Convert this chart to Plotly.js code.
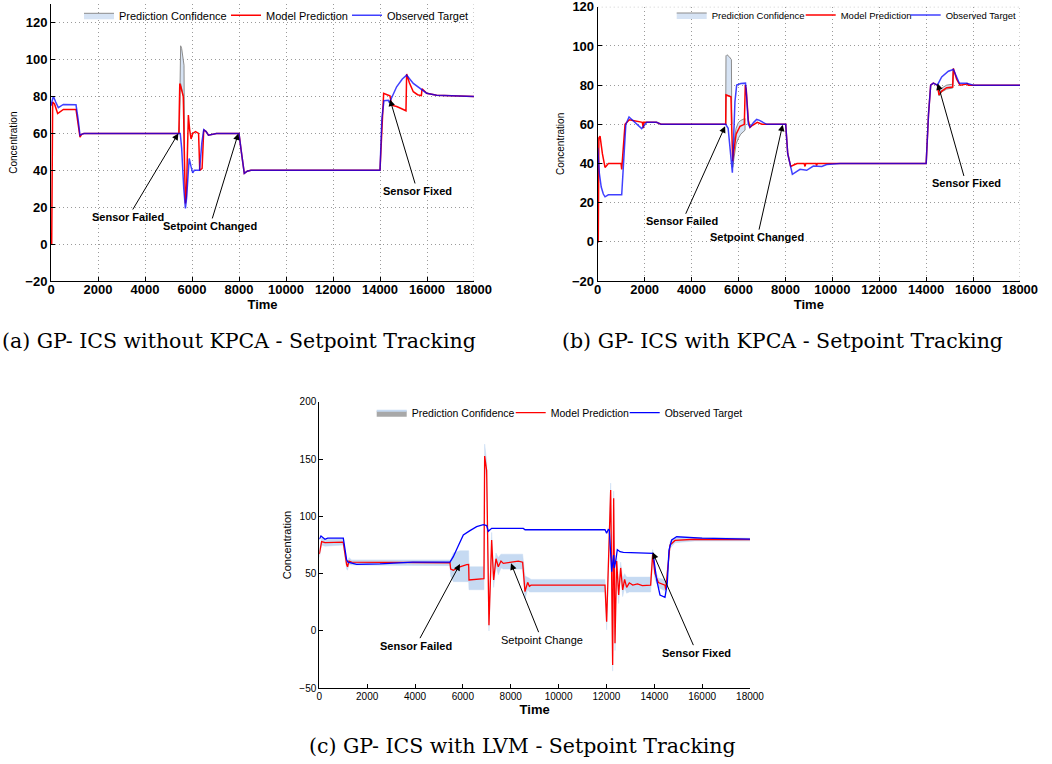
<!DOCTYPE html>
<html><head><meta charset="utf-8">
<script src="https://cdn.plot.ly/plotly-3.0.1.min.js"></script>
<style>html,body{margin:0;padding:0;background:#fff}#chart{width:1052px;height:764px}</style>
</head><body><div id="chart"></div>
<script>
// ---------- Panel (a): GP- ICS without KPCA ----------
const aTimePred = [0, 30, 70, 150, 284, 525, 1064, 1150, 1234, 1300, 1400, 5440, 5480, 5530, 5630, 5680, 5720, 5760, 5800, 5845, 5900, 5960, 6030, 6150, 6280, 6312, 6330, 6430, 6500, 6600, 6700, 7040, 8000, 8100, 8225, 8350, 8510, 14000, 14070, 14155, 14300, 14424, 14496, 14708, 14900, 15105, 15134, 15250, 15417, 15600, 15760, 15790, 15985, 16410, 18000];
const aPred = [0, 0, 77, 76, 70.8, 73, 73, 66, 58, 59.5, 60, 60, 87, 85, 80, 45, 22, 26, 45, 70, 62, 57, 60, 61, 60, 40, 40, 41, 62, 61, 59, 60, 60, 50, 38.3, 39.5, 40, 40, 62, 81.7, 81, 80.4, 75.3, 74.6, 73.5, 72.3, 92.2, 87.5, 82.6, 81, 80.5, 84.2, 81.8, 80.7, 80];
const aTimeObs = [0, 60, 100, 200, 312, 525, 1064, 1150, 1234, 1300, 1400, 5500, 5560, 5650, 5720, 5770, 5880, 5960, 6030, 6100, 6320, 6420, 6500, 6600, 6700, 7040, 8000, 8100, 8225, 8350, 8510, 14000, 14080, 14169, 14353, 14400, 14550, 14708, 14950, 15134, 15417, 15772, 15985, 16410, 18000];
const aObs = [75, 79, 80.2, 77, 74, 75.7, 75.5, 68, 59, 59.5, 60, 60, 52, 30, 19.3, 25, 46.4, 42, 38.6, 40, 40, 55, 62, 61, 59, 60, 60, 50, 38.3, 39.5, 40, 40, 68, 77.7, 78, 76.6, 80.5, 85.3, 89.5, 91.6, 87.1, 84, 81.8, 80.7, 80];
const aConfTime = [5460, 5489, 5517, 5560, 5631, 5660, 5680];
const aConfUpper = [60, 100, 107.5, 106, 100, 97, 50];
const aConfLower = [60, 82, 87, 85, 80, 62, 45];

// ---------- Panel (b): GP- ICS with KPCA ----------
const bTimePred = [0, 25, 50, 100, 200, 312, 455, 995, 1023, 1100, 1165, 1350, 1900, 1946, 1960, 2050, 2500, 2700, 5455, 5468, 5680, 5720, 5754, 5800, 5900, 6066, 6250, 6290, 6330, 6420, 6490, 6600, 6800, 7000, 8013, 8100, 8226, 8400, 8500, 8800, 8836, 8870, 9300, 9330, 9360, 14000, 14100, 14193, 14306, 14477, 14548, 14662, 14875, 15130, 15150, 15160, 15300, 15443, 15727, 15756, 15790, 18000];
const bPred = [0, 0, 53, 54, 45, 38, 40, 40, 37, 50, 60, 62.3, 61, 58, 61, 61, 61, 60, 60, 75, 74, 55, 41.2, 46, 55, 59, 60, 80, 78, 62, 58.4, 59.5, 61, 60, 60, 45, 38.5, 39.5, 40, 40, 38.5, 40, 40, 39, 40, 40, 65, 80, 81, 80, 75, 77, 78.7, 79, 83, 88.5, 83, 80, 80.5, 81, 80, 80];
const bTimeObs = [0, 70, 150, 240, 312, 455, 1023, 1100, 1200, 1335, 1500, 1700, 1875, 2090, 2515, 2700, 5455, 5560, 5680, 5740, 5800, 5850, 5924, 6100, 6300, 6330, 6420, 6490, 6650, 6776, 6900, 7200, 8013, 8100, 8297, 8450, 8624, 8908, 9192, 9550, 9760, 10330, 14000, 14100, 14193, 14306, 14477, 14662, 14946, 15160, 15300, 15415, 15727, 16010, 18000];
const bObs = [48, 35, 28, 24.4, 23, 24, 24, 40, 60, 63.7, 62, 59.5, 57.8, 61, 61, 60, 60, 58, 42, 35.3, 55, 71.6, 80, 80.8, 81, 77, 60, 58.5, 61, 62.5, 62, 60, 60, 45, 34.5, 35.5, 37, 36.5, 38.7, 38.5, 39.5, 40, 40, 65, 80, 81, 80, 84.2, 87.1, 88, 84, 81, 81, 80, 80];
const bConf1Time = [5455, 5468, 5510, 5610, 5700, 5715];
const bConf1Upper = [60, 95, 95.5, 94.5, 93, 60];
const bConf1Lower = [60, 75, 75, 74.5, 73.8, 60];
const bConf2Time = [5760, 5800, 5900, 6000, 6100, 6280];
const bConf2Upper = [44, 50, 58, 61, 62, 63];
const bConf2Lower = [38, 42, 50, 53, 55, 57];
const bConf3Time = [14490, 14548, 14662, 14875, 15130, 15160];
const bConf3Upper = [80.5, 77, 78.5, 80, 80.5, 88.5];
const bConf3Lower = [80, 74.5, 76.5, 78, 78.5, 88];

// ---------- Panel (c): GP- ICS with LVM ----------
const cTimePred = [0, 98, 240, 1000, 1142, 1180, 1240, 1350, 5461, 5490, 5600, 5879, 6158, 6242, 6256, 6882, 6910, 6994, 7091, 7203, 7286, 7384, 7481, 7593, 7690, 7969, 8317, 8498, 8596, 8708, 8780, 8850, 11940, 12009, 12177, 12260, 12302, 12358, 12427, 12511, 12595, 12678, 12760, 12845, 12956, 13100, 13300, 13500, 13848, 13932, 14029, 14169, 14448, 14476, 14546, 14657, 14865, 15700, 18000];
const cPred = [67, 78, 77, 77.5, 58, 56, 61, 60, 59.5, 54, 53, 56, 57.8, 58, 44.5, 45.6, 152.6, 140, 5, 79.4, 44.5, 63, 56, 61, 59, 60, 61, 60, 34.3, 42.4, 39, 40, 40, 8, 123, -29.7, 115.7, -10.8, 61, 31.4, 55, 35.8, 45, 38, 42, 40, 41, 39.5, 40, 67, 50, 42.2, 40, 36, 50, 75, 79, 80, 79.8];
const cConfUpper = [70, 81, 80, 80.5, 62, 60, 64, 62, 62, 62, 68, 70, 70, 70, 56, 56, 163, 148, 14, 86, 52, 68, 64, 67, 67, 67, 67, 67, 48, 47, 46, 45, 45, 16, 129, -22, 122, -3, 66, 40, 60, 46, 50, 47, 47, 47, 47, 47, 47, 71, 54, 46, 45, 41, 54, 78, 81, 81.5, 81];
const cConfLower = [64, 75, 74, 75, 54, 53, 58, 57.5, 57, 48, 43, 43, 43, 43, 36, 36, 145, 132, 0, 72, 38, 57, 49, 55, 54, 54, 54, 54, 28, 36, 34, 34, 34, 1, 116, -35, 108, -17, 55, 24, 49, 30, 38, 33, 34, 34, 34, 34, 34, 62, 45, 38, 35, 31, 46, 72, 77, 78.5, 78.5];
const cTimeObs = [0, 70, 237, 350, 1003, 1142, 1200, 1560, 2535, 3200, 3900, 5461, 5600, 5810, 6019, 6297, 6576, 6855, 6994, 7064, 7203, 8526, 8600, 11940, 12009, 12077, 12121, 12220, 12300, 12330, 12380, 12455, 12566, 12706, 13950, 14100, 14238, 14447, 14543, 14614, 14726, 14935, 15353, 16000, 18000];
const cObs = [80, 82.8, 80, 81, 81, 62, 60, 58.1, 58.5, 59.5, 60, 60, 64.8, 74.4, 83.7, 87.5, 91, 92.7, 92, 87, 89.5, 89.5, 88.3, 88.3, 85.2, 88.5, 88, 51.7, 66.3, 55, 60, 71, 69.2, 68.5, 67.7, 44.5, 31.4, 29.4, 41.6, 70.6, 79.4, 82.2, 81.5, 81, 80.2];

// ---------- Labels ----------
const seriesNames = ['Prediction Confidence', 'Model Prediction', 'Observed Target'];
const aNotes = ['Sensor Failed', 'Setpoint Changed', 'Sensor Fixed'];
const aNoteTime = [5417, 7971, 14424];
const aNoteValue = [60, 60, 78.4];
const bNotes = ['Sensor Failed', 'Setpoint Changed', 'Sensor Fixed'];
const bNoteTime = [5430, 7885, 14491];
const bNoteValue = [59, 59.8, 80.9];
const cNotes = ['Sensor Failed', 'Setpoint Change', 'Sensor Fixed'];
const cNoteTime = [5879, 8011, 13932];
const cNoteValue = [58.4, 59, 68.6];
const captions = ['(a) GP- ICS without KPCA - Setpoint Tracking', '(b) GP- ICS with KPCA - Setpoint Tracking', '(c) GP- ICS with LVM - Setpoint Tracking'];

// ---------- Build ----------
const SANS = 'Liberation Sans, Arial, Helvetica, sans-serif';
function poly(segs) {
  const x = [], y = [];
  segs.forEach((s, i) => {
    if (i > 0) { x.push(null); y.push(null); }
    const t = s[0], up = s[1], lo = s[2];
    for (let k = 0; k < t.length; k++) { x.push(t[k]); y.push(up[k]); }
    for (let k = t.length - 1; k >= 0; k--) { x.push(t[k]); y.push(lo[k]); }
  });
  return {x, y};
}
const traces = [];
function addPanel(xa, ya, leg, conf, tp, p, to, o, confStyle, lw, blueOp, widths) {
  traces.push(Object.assign({type: 'scatter', mode: 'lines', x: conf.x, y: conf.y, fill: 'toself',
    xaxis: xa, yaxis: ya, legend: leg, name: seriesNames[0], hoverinfo: 'skip', legendwidth: widths[0]}, confStyle));
  traces.push({type: 'scatter', mode: 'lines', x: tp, y: p, xaxis: xa, yaxis: ya, legend: leg,
    name: seriesNames[1], legendwidth: widths[1], line: {color: '#ff0000', width: lw}});
  traces.push({type: 'scatter', mode: 'lines', x: to, y: o, xaxis: xa, yaxis: ya, legend: leg,
    name: seriesNames[2], opacity: blueOp, line: {color: '#0000ff', width: lw}});
}
const abConf = {fillcolor: '#d6e3f4', line: {color: '#8c8c8c', width: 1}};
addPanel('x', 'y', 'legend', poly([[aConfTime, aConfUpper, aConfLower]]), aTimePred, aPred, aTimeObs, aObs, abConf, 1.5, 0.75, [102, 76]);
addPanel('x2', 'y2', 'legend2', poly([[bConf1Time, bConf1Upper, bConf1Lower], [bConf2Time, bConf2Upper, bConf2Lower], [bConf3Time, bConf3Upper, bConf3Lower]]), bTimePred, bPred, bTimeObs, bObs, abConf, 1.5, 0.75, [84, 60]);
addPanel('x3', 'y3', 'legend3', poly([[cTimePred, cConfUpper, cConfLower]]), cTimePred, cPred, cTimeObs, cObs,
  {fillcolor: '#c6daf2', line: {color: '#c6daf2', width: 0.5}, showlegend: false}, 1.3, 1, [94, 69]);
// legend swatch for panel (c) confidence (gray patch with light-blue edge)
traces.splice(6, 0, {type: 'scatter', mode: 'lines', x: [null], y: [null], fill: 'toself', fillcolor: '#a8a8a8',
  line: {color: '#c6daf2', width: 2}, xaxis: 'x3', yaxis: 'y3', legend: 'legend3', name: seriesNames[0], legendwidth: 94});

const GRID = '#9a9a9a', GRIDDASH = '1px,3px';
function axAB(domain, anchor, range, dtick) {
  return {domain, anchor, range, dtick, tick0: 0, tickformat: 'd', showline: true, linecolor: '#000', linewidth: 1,
    ticks: 'inside', ticklen: 4, tickcolor: '#000', showgrid: true, gridcolor: GRID, griddash: GRIDDASH,
    gridwidth: 1, zeroline: false, ticklabeloverflow: 'allow',
    tickfont: {family: SANS, size: 13, weight: 'bold', color: '#000'}};
}
function axC(domain, anchor, range, dtick) {
  return {domain, anchor, range, dtick, tick0: 0, tickformat: 'd', showline: true, linecolor: '#000', linewidth: 1,
    ticks: 'inside', ticklen: 4, tickcolor: '#000', showgrid: false, zeroline: false, ticklabeloverflow: 'allow',
    tickfont: {family: SANS, size: 10, color: '#000'}};
}
const W = 1052, H = 764;
const timeTitle = {text: 'Time', font: {family: SANS, size: 13, weight: 'bold', color: '#000'}, standoff: 0};
const layout = {
  width: W, height: H, margin: {l: 0, r: 0, t: 0, b: 0}, paper_bgcolor: '#fff', plot_bgcolor: 'rgba(0,0,0,0)',
  showlegend: true,
  xaxis: Object.assign(axAB([51 / W, 474 / W], 'y', [0, 18000], 2000), {ticklabelstandoff: -4, title: timeTitle}),
  yaxis: Object.assign(axAB([1 - 281 / H, 1 - 4.3 / H], 'x', [-20, 130], 20), {title: {text: 'Concentration', font: {family: SANS, size: 10, color: '#000'}, standoff: 5}}),
  xaxis2: Object.assign(axAB([597.7 / W, 1020 / W], 'y2', [0, 18000], 2000), {ticklabelstandoff: -4, title: timeTitle}),
  yaxis2: Object.assign(axAB([1 - 281 / H, 1 - 6.8 / H], 'x2', [-20, 120], 20), {title: {text: 'Concentration', font: {family: SANS, size: 10, color: '#000'}, standoff: 5}}),
  xaxis3: Object.assign(axC([319.3 / W, 750 / W], 'y3', [0, 18000], 2000), {ticklabelstandoff: -1, title: timeTitle}),
  yaxis3: Object.assign(axC([1 - 688.3 / H, 1 - 401.7 / H], 'x3', [-50, 200], 50), {title: {text: 'Concentration', font: {family: SANS, size: 11, color: '#000'}, standoff: 5}}),
  legend: {orientation: 'h', x: 79 / W, xanchor: 'left', y: 1 - 15.3 / H, yanchor: 'middle', bgcolor: 'rgba(0,0,0,0)', borderwidth: 0, font: {family: SANS, size: 11, color: '#000'}, itemwidth: 30},
  legend2: {orientation: 'h', x: 671.7 / W, xanchor: 'left', y: 1 - 15 / H, yanchor: 'middle', bgcolor: 'rgba(0,0,0,0)', borderwidth: 0, font: {family: SANS, size: 9.5, color: '#000'}, itemwidth: 30},
  legend3: {orientation: 'h', x: 371.7 / W, xanchor: 'left', y: 1 - 412.7 / H, yanchor: 'middle', bgcolor: 'rgba(0,0,0,0)', borderwidth: 0, font: {family: SANS, size: 10.5, color: '#000'}, itemwidth: 30},
  // grid lines at the range edges (Plotly drops these next to the axis lines)
  shapes: [
    {type: 'line', xref: 'x', yref: 'y domain', x0: 18000, x1: 18000, y0: 0, y1: 1, line: {color: GRID, width: 1, dash: GRIDDASH}, layer: 'below'},
    {type: 'line', xref: 'x2', yref: 'y2 domain', x0: 18000, x1: 18000, y0: 0, y1: 1, line: {color: GRID, width: 1, dash: GRIDDASH}, layer: 'below'},
    {type: 'line', xref: 'x2 domain', yref: 'y2', x0: 0, x1: 1, y0: 120, y1: 120, line: {color: GRID, width: 1, dash: GRIDDASH}, layer: 'below'}
  ],
  annotations: []
};
function note(xr, yr, t, v, text, tx, ty, bold, size) {
  layout.annotations.push({xref: xr, yref: yr, axref: xr, ayref: yr, x: t, y: v, ax: tx, ay: ty, text,
    showarrow: true, arrowhead: 2, arrowsize: 1.3, arrowwidth: 1, arrowcolor: '#000',
    font: {family: SANS, size, weight: bold ? 'bold' : 'normal', color: '#000'}});
}
const aText = [[3289, 14.7], [6766, 9.85], [15587, 28.8]];
const bText = [[3609, 10.5], [6805, 2.4], [15699, 29.8]];
const cText = [[4040, -12.8], [9293, -7.6], [15771, -18.9]];
for (let i = 0; i < 3; i++) {
  note('x', 'y', aNoteTime[i], aNoteValue[i], aNotes[i], aText[i][0], aText[i][1], true, 11);
  note('x2', 'y2', bNoteTime[i], bNoteValue[i], bNotes[i], bText[i][0], bText[i][1], true, 11);
  note('x3', 'y3', cNoteTime[i], cNoteValue[i], cNotes[i], cText[i][0], cText[i][1], i !== 1, 11);
}
const capPos = [[239, 341], [782.5, 341], [522.5, 746]];
captions.forEach((c, i) => layout.annotations.push({xref: 'paper', yref: 'paper', x: capPos[i][0] / W, y: 1 - capPos[i][1] / H,
  text: c, showarrow: false, xanchor: 'center', yanchor: 'middle', font: {family: 'DejaVu Serif, serif', size: 20.5, color: '#000'}}));

Plotly.newPlot('chart', traces, layout, {staticPlot: true, displayModeBar: false});
</script></body></html>
